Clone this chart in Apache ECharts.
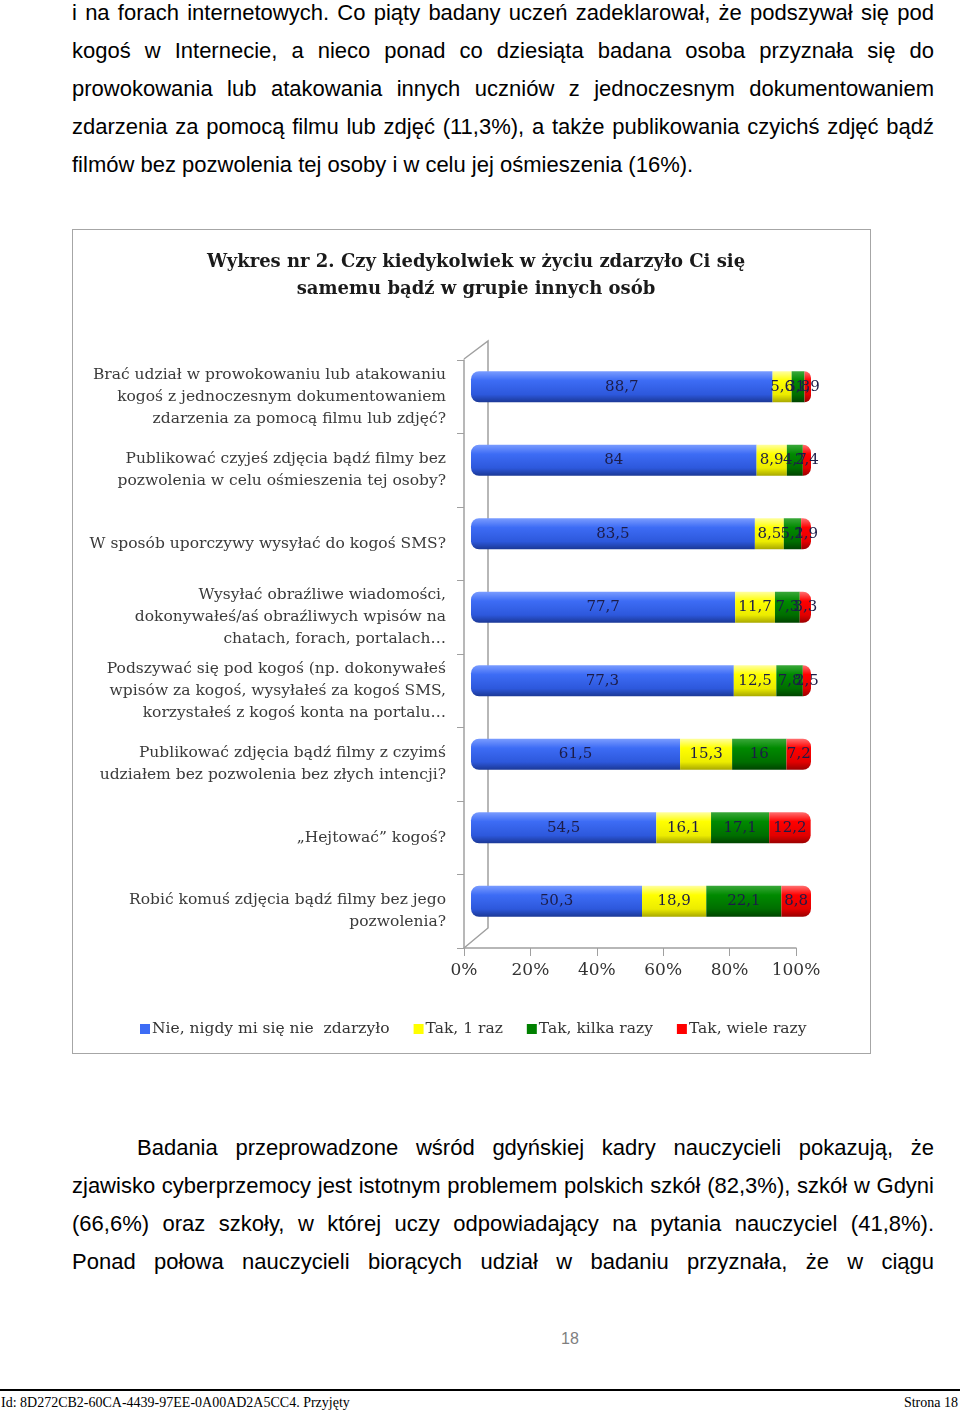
<!DOCTYPE html>
<html>
<head>
<meta charset="utf-8">
<script src="https://cdn.jsdelivr.net/npm/echarts@6/dist/echarts.min.js"></script>
<style>
  body { margin: 0; background: #fff; width: 960px; height: 1413px; position: relative; overflow: hidden; }
  .txt { position: absolute; left: 72px; width: 862px; font-family: "Liberation Sans", Arial, sans-serif; font-size: 22px; color: #000; line-height: 38px; white-space: nowrap; }
  .j { text-align: justify; text-align-last: justify; white-space: normal; }
  #chart { position: absolute; left: 72px; top: 229px; width: 797px; height: 823px; border: 1.5px solid #a6a6a6; }
  .foot { position: absolute; font-family: "Liberation Serif", "Times New Roman", serif; font-size: 14px; color: #000; }
</style>
</head>
<body>
<div class="txt j" style="top:-6px">i na forach internetowych. Co piąty badany uczeń zadeklarował, że podszywał się pod</div>
<div class="txt j" style="top:32px">kogoś w Internecie, a nieco ponad co dziesiąta badana osoba przyznała się do</div>
<div class="txt j" style="top:70px">prowokowania lub atakowania innych uczniów z jednoczesnym dokumentowaniem</div>
<div class="txt j" style="top:108px">zdarzenia za pomocą filmu lub zdjęć (11,3%), a także publikowania czyichś zdjęć bądź</div>
<div class="txt" style="top:146px">filmów bez pozwolenia tej osoby i w celu jej ośmieszenia (16%).</div>

<div id="chart"></div>

<div class="txt j" style="top:1129px;left:137px;width:797px">Badania przeprowadzone wśród gdyńskiej kadry nauczycieli pokazują, że</div>
<div class="txt j" style="top:1167px">zjawisko cyberprzemocy jest istotnym problemem polskich szkół (82,3%), szkół w Gdyni</div>
<div class="txt j" style="top:1205px">(66,6%) oraz szkoły, w której uczy odpowiadający na pytania nauczyciel (41,8%).</div>
<div class="txt j" style="top:1243px">Ponad połowa nauczycieli biorących udział w badaniu przyznała, że w ciągu</div>

<div style="position:absolute;left:540px;width:60px;top:1330px;text-align:center;font-family:'Liberation Sans',Arial,sans-serif;font-size:16px;color:#7f7f7f">18</div>
<div style="position:absolute;left:0;top:1389px;width:960px;height:2px;background:#000"></div>
<div class="foot" style="left:1px;top:1395px">Id: 8D272CB2-60CA-4439-97EE-0A00AD2A5CC4. Przyjęty</div>
<div class="foot" style="right:2px;top:1395px">Strona 18</div>

<script>
var categories = [
  "Brać udział w prowokowaniu lub atakowaniu\nkogoś z jednoczesnym dokumentowaniem\nzdarzenia za pomocą filmu lub zdjęć?",
  "Publikować czyjeś zdjęcia bądź filmy bez\npozwolenia w celu ośmieszenia tej osoby?",
  "W sposób uporczywy wysyłać do kogoś SMS?",
  "Wysyłać obraźliwe wiadomości,\ndokonywałeś/aś obraźliwych wpisów na\nchatach, forach, portalach…",
  "Podszywać się pod kogoś (np. dokonywałeś\nwpisów za kogoś, wysyłałeś za kogoś SMS,\nkorzystałeś z kogoś konta na portalu…",
  "Publikować zdjęcia bądź filmy z czyimś\nudziałem bez pozwolenia bez złych intencji?",
  "„Hejtować” kogoś?",
  "Robić komuś zdjęcia bądź filmy bez jego\npozwolenia?"
];
var seriesNames = ["Nie, nigdy mi się nie  zdarzyło", "Tak, 1 raz", "Tak, kilka razy", "Tak, wiele razy"];
var nigdy = [88.7, 84, 83.5, 77.7, 77.3, 61.5, 54.5, 50.3];
var raz = [5.6, 8.9, 8.5, 11.7, 12.5, 15.3, 16.1, 18.9];
var kilka = [3.8, 4.7, 5.1, 7.3, 7.8, 16, 17.1, 22.1];
var wiele = [1.9, 2.4, 2.9, 3.3, 2.5, 7.2, 12.2, 8.8];
var tickLabels = ["0%", "20%", "40%", "60%", "80%", "100%"];

var serif = "'DejaVu Serif', 'Liberation Serif', serif";

function cyl(c0, c1, c2, c3) {
  return new echarts.graphic.LinearGradient(0, 0, 0, 1, [
    { offset: 0, color: c0 },
    { offset: 0.3, color: c1 },
    { offset: 0.75, color: c2 },
    { offset: 1, color: c3 }
  ]);
}
var fills = [
  cyl("#7a9cff", "#3d6cf5", "#2d58dc", "#1b3896"),
  cyl("#ffffa0", "#ffff00", "#ecec00", "#a8a800"),
  cyl("#3aa83a", "#008a00", "#006e00", "#004400"),
  cyl("#ff7070", "#ff0000", "#e20000", "#9a0000")
];
var radii = [[8, 0, 0, 8], 0, 0, [0, 8, 8, 0]];
var values = [nigdy, raz, kilka, wiele];

var chart = echarts.init(document.getElementById("chart"));

var series = values.map(function(v, i) {
  return {
    name: seriesNames[i],
    type: "bar",
    stack: "all",
    xAxisIndex: 1,
    yAxisIndex: 1,
    barWidth: 31,
    data: v,
    itemStyle: { color: fills[i], borderRadius: radii[i] },
    label: {
      show: true,
      position: "inside",
      color: "#1c1c48",
      fontFamily: serif,
      fontSize: 15,
      formatter: function(p) { return String(p.value).replace(".", ","); }
    }
  };
});

chart.setOption({
  animation: false,
  title: {
    text: "Wykres nr 2. Czy kiedykolwiek w życiu zdarzyło Ci się\nsamemu bądź w grupie innych osób",
    left: 398, top: 14, textAlign: "center",
    textStyle: { fontFamily: serif, fontSize: 18, fontWeight: "bold", color: "#1a1a1a", lineHeight: 27 }
  },
  legend: {
    left: 62, top: 786,
    itemWidth: 10, itemHeight: 10, itemGap: 24,
    icon: "rect",
    data: seriesNames.map(function(n, i) {
      return { name: n, itemStyle: { color: ["#3d6cf5", "#ffff00", "#008000", "#ff0000"][i] } };
    }),
    textStyle: { fontFamily: serif, fontSize: 15.5, color: "#333", padding: [0, 0, 0, -3] }
  },
  grid: [
    { left: 391, top: 130, width: 332, height: 588 },
    { left: 398, top: 120, width: 340, height: 588 }
  ],
  xAxis: [
    {
      gridIndex: 0, type: "value", min: 0, max: 100, interval: 20,
      axisLine: { show: true, lineStyle: { color: "#a0a0a0", width: 1.5 } },
      axisTick: { show: true, length: 8, lineStyle: { color: "#a0a0a0" } },
      splitLine: { show: false },
      axisLabel: { margin: 14, fontFamily: serif, fontSize: 17, color: "#333",
        formatter: function(v) { return tickLabels[v / 20]; } }
    },
    { gridIndex: 1, type: "value", min: 0, max: 100, show: false }
  ],
  yAxis: [
    {
      gridIndex: 0, type: "category", data: categories, inverse: true,
      axisLine: { show: true, lineStyle: { color: "#a0a0a0", width: 1.5 } },
      axisTick: { show: true, length: 7, lineStyle: { color: "#a0a0a0" } },
      axisLabel: { margin: 18, fontFamily: serif, fontSize: 15.5, lineHeight: 22, color: "#3a3a3a", align: "right" }
    },
    { gridIndex: 1, type: "category", data: categories, inverse: true, show: false }
  ],
  graphic: [
    {
      type: "polyline",
      shape: { points: [[391, 129], [415, 111], [415, 698], [391, 718]] },
      style: { fill: null, stroke: "#a0a0a0", lineWidth: 1.5 },
      z: 0
    }
  ],
  series: series
});
</script>
</body>
</html>
